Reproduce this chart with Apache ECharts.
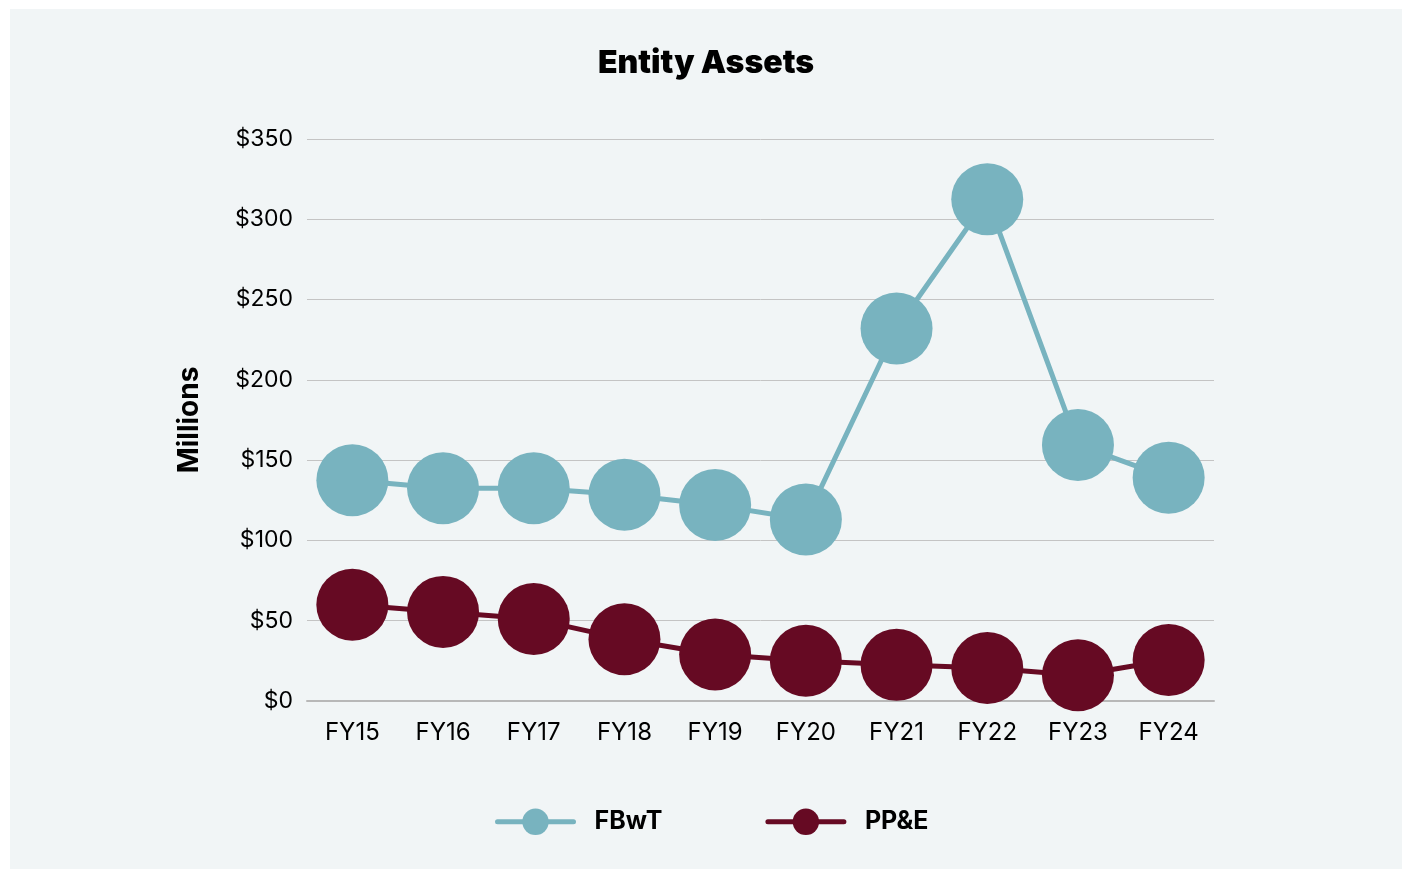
<!DOCTYPE html>
<html>
<head>
<meta charset="utf-8">
<script src="https://cdn.jsdelivr.net/npm/echarts@6/dist/echarts.min.js"></script>
<style>
  html, body { margin: 0; padding: 0; background: #ffffff; }
  #chart { position: absolute; left: 10px; top: 9px; width: 1392px; height: 860px; background: #f1f5f6; }
</style>
</head>
<body>
<div id="chart"></div>
<script>
// data
const years = ['FY15', 'FY16', 'FY17', 'FY18', 'FY19', 'FY20', 'FY21', 'FY22', 'FY23', 'FY24'];
const fbwt = [137.5, 132.5, 132.5, 128.5, 122, 113, 232, 312.5, 159.5, 139];
const ppe = [60, 55.5, 51, 38.5, 29, 25, 22.5, 20.5, 16, 25.5];
const yTicks = [0, 50, 100, 150, 200, 250, 300, 350];

const colors = ['#78b3bf', '#660a23'];

const chart = echarts.init(document.getElementById('chart'));

function lineSeries(name, data, i) {
  return {
    name: name,
    type: 'line',
    data: data,
    symbol: 'circle',
    symbolSize: 72,
    lineStyle: { color: colors[i], width: 5 },
    itemStyle: { color: colors[i] },
    emphasis: { disabled: true }
  };
}

chart.setOption({
  animation: false,
  textStyle: { fontFamily: 'Inter' },
  title: {
    text: 'Entity Assets',
    left: 'center',
    top: 33,
    textStyle: { fontFamily: 'Inter', fontWeight: 900, fontSize: 32, color: '#000' }
  },
  legend: {
    bottom: 29,
    left: 480,
    itemWidth: 76,
    itemHeight: 33,
    itemGap: 103,
    lineStyle: { width: 5, cap: 'round' },
    textStyle: { fontFamily: 'Inter', fontWeight: 'bold', fontSize: 25, color: '#000', padding: [0, 0, 0, 16] },
    data: ['FBwT', 'PP&E']
  },
  grid: { left: 297, right: 188, top: 130, bottom: 168 },
  xAxis: {
    type: 'category',
    data: years,
    boundaryGap: true,
    axisLine: { lineStyle: { color: '#b8b8b8', width: 2 } },
    axisTick: { show: false },
    axisLabel: { color: '#000', fontSize: 24, margin: 20 }
  },
  yAxis: {
    type: 'value',
    min: yTicks[0],
    max: yTicks[yTicks.length - 1],
    interval: 50,
    name: 'Millions',
    nameLocation: 'middle',
    nameGap: 103,
    nameTextStyle: { fontFamily: 'Inter', fontWeight: 'bold', fontSize: 28, color: '#000' },
    axisLine: { show: false },
    axisTick: { show: false },
    splitLine: { lineStyle: { color: '#c4c4c4', width: 1 } },
    axisLabel: { color: '#000', fontSize: 23, margin: 14, formatter: v => '$' + v }
  },
  series: [
    lineSeries('FBwT', fbwt, 0),
    lineSeries('PP&E', ppe, 1)
  ]
});
</script>
</body>
</html>
